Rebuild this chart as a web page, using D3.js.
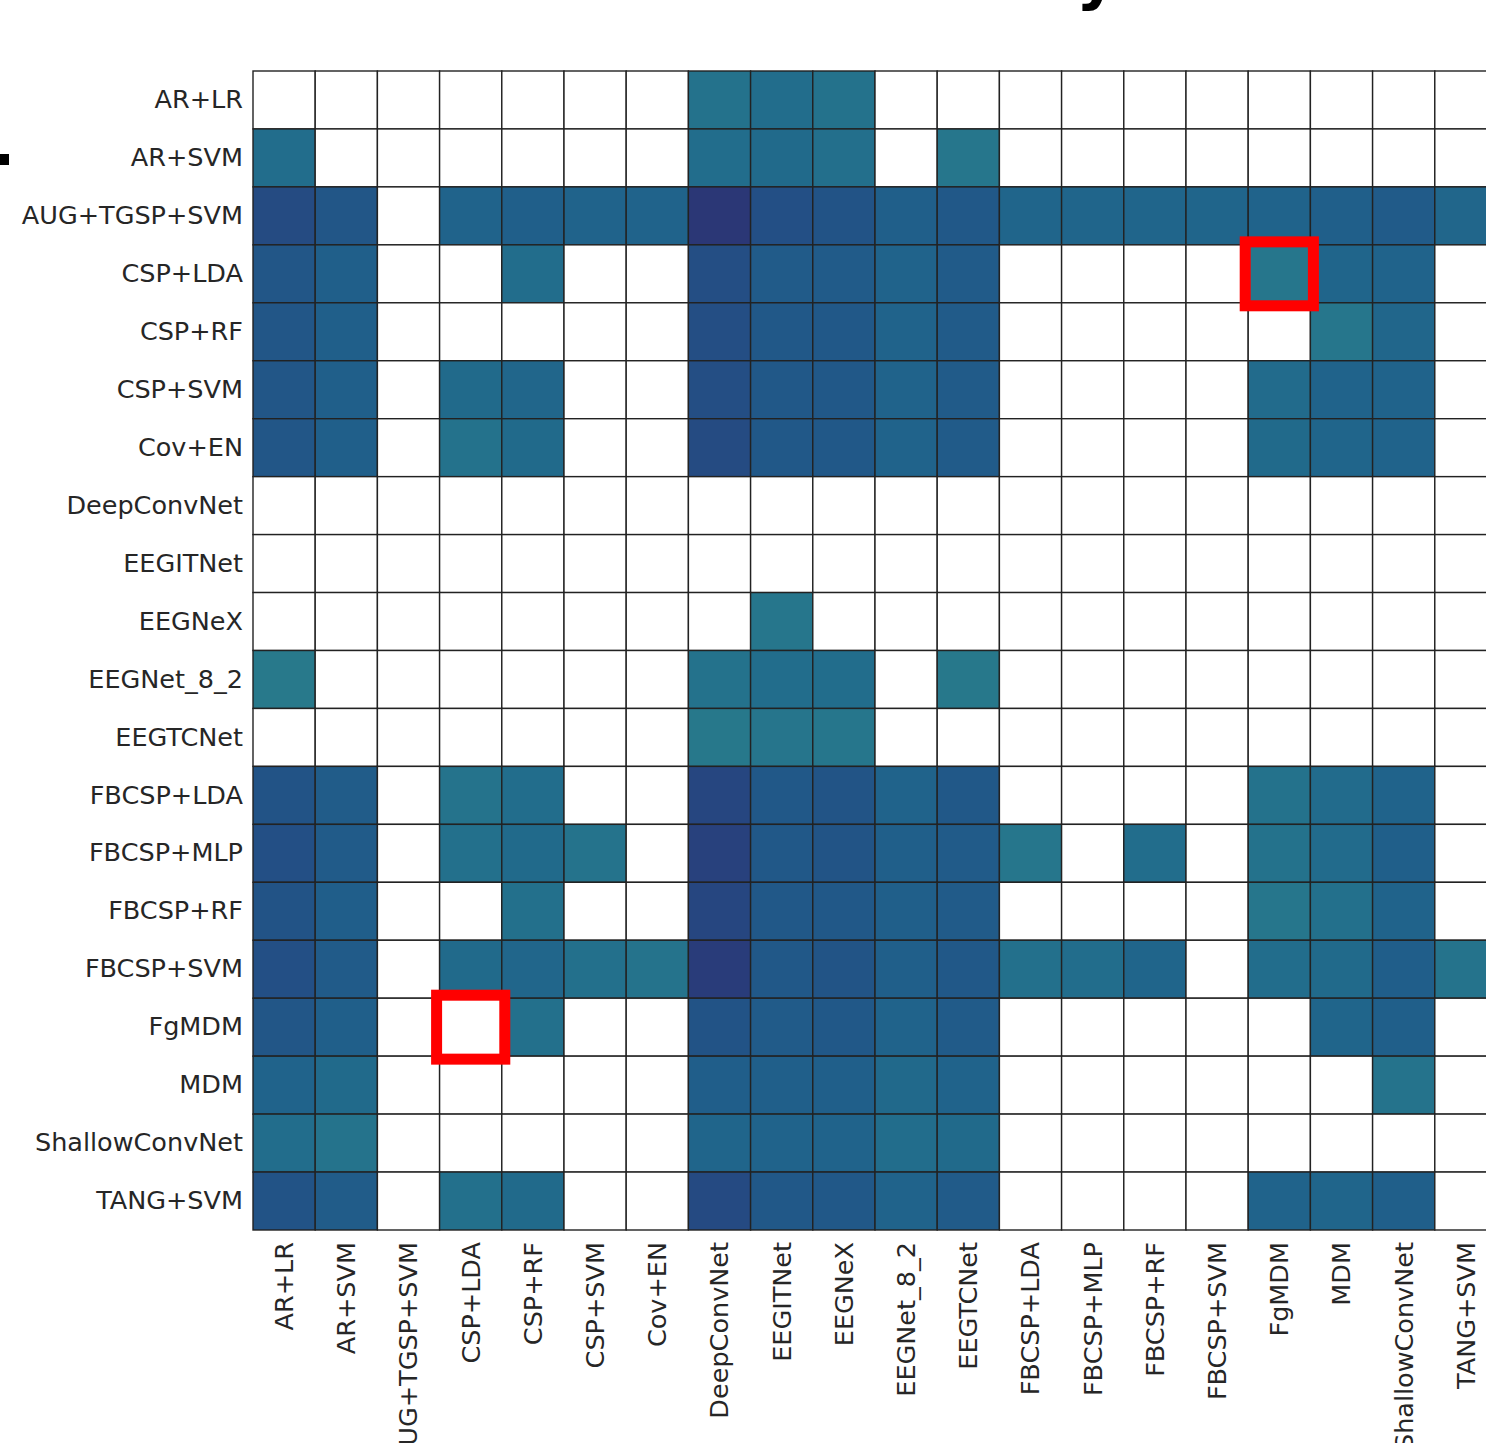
<!DOCTYPE html>
<html>
<head>
<meta charset="utf-8">
<script src="https://cdn.jsdelivr.net/npm/d3@7"></script>
<style>
  html, body { margin: 0; padding: 0; background: #ffffff; overflow: hidden; }
  svg { display: block; }
</style>
</head>
<body>
<svg id="chart" width="1486" height="1443"></svg>
<script>
// ---- data ----
const titleText = "Offline Statistical Analysis";
const methods = ["AR+LR","AR+SVM","AUG+TGSP+SVM","CSP+LDA","CSP+RF","CSP+SVM","Cov+EN",
  "DeepConvNet","EEGITNet","EEGNeX","EEGNet_8_2","EEGTCNet","FBCSP+LDA","FBCSP+MLP",
  "FBCSP+RF","FBCSP+SVM","FgMDM","MDM","ShallowConvNet","TANG+SVM"];
// one row per method (rows), columns in the same order; null = not significant (white)
const n = null;
const significance = [
  /* AR+LR */          [n,n,n,n,n,n,n,0.22,0.30,0.22,n,n,n,n,n,n,n,n,n,n],
  /* AR+SVM */         [0.30,n,n,n,n,n,n,0.30,0.35,0.27,n,0.15,n,n,n,n,n,n,n,n],
  /* AUG+TGSP+SVM */   [0.75,0.62,n,0.45,0.50,0.45,0.45,0.95,0.70,0.66,0.50,0.60,0.42,0.42,0.42,0.42,0.45,0.50,0.56,0.40],
  /* CSP+LDA */        [0.62,0.50,n,n,0.30,n,n,0.72,0.56,0.56,0.45,0.56,n,n,n,n,0.15,0.42,0.45,n],
  /* CSP+RF */         [0.62,0.50,n,n,n,n,n,0.72,0.60,0.60,0.45,0.56,n,n,n,n,n,0.15,0.40,n],
  /* CSP+SVM */        [0.62,0.50,n,0.35,0.40,n,n,0.72,0.60,0.60,0.45,0.56,n,n,n,n,0.32,0.45,0.45,n],
  /* Cov+EN */         [0.62,0.50,n,0.22,0.35,n,n,0.75,0.60,0.60,0.45,0.56,n,n,n,n,0.35,0.42,0.45,n],
  /* DeepConvNet */    [n,n,n,n,n,n,n,n,n,n,n,n,n,n,n,n,n,n,n,n],
  /* EEGITNet */       [n,n,n,n,n,n,n,n,n,n,n,n,n,n,n,n,n,n,n,n],
  /* EEGNeX */         [n,n,n,n,n,n,n,n,0.15,n,n,n,n,n,n,n,n,n,n,n],
  /* EEGNet_8_2 */     [0.10,n,n,n,n,n,n,0.22,0.30,0.30,n,0.12,n,n,n,n,n,n,n,n],
  /* EEGTCNet */       [n,n,n,n,n,n,n,0.12,0.16,0.15,n,n,n,n,n,n,n,n,n,n],
  /* FBCSP+LDA */      [0.66,0.55,n,0.20,0.30,n,n,0.80,0.60,0.65,0.45,0.60,n,n,n,n,0.22,0.32,0.45,n],
  /* FBCSP+MLP */      [0.70,0.56,n,0.25,0.35,0.20,n,0.85,0.60,0.65,0.50,0.56,0.15,n,0.30,n,0.22,0.32,0.50,n],
  /* FBCSP+RF */       [0.66,0.52,n,n,0.25,n,n,0.80,0.60,0.60,0.50,0.56,n,n,n,n,0.15,0.25,0.45,n],
  /* FBCSP+SVM */      [0.70,0.56,n,0.35,0.40,0.25,0.20,0.90,0.60,0.65,0.50,0.60,0.25,0.30,0.42,n,0.30,0.35,0.52,0.20],
  /* FgMDM */          [0.62,0.50,n,n,0.25,n,n,0.66,0.56,0.60,0.45,0.56,n,n,n,n,n,0.42,0.50,n],
  /* MDM */            [0.45,0.35,n,n,n,n,n,0.52,0.50,0.50,0.36,0.45,n,n,n,n,n,n,0.20,n],
  /* ShallowConvNet */ [0.30,0.20,n,n,n,n,n,0.42,0.45,0.45,0.30,0.35,n,n,n,n,n,n,n,n],
  /* TANG+SVM */       [0.66,0.55,n,0.25,0.35,n,n,0.76,0.60,0.60,0.45,0.56,n,n,n,n,0.45,0.42,0.50,n]
];
const highlights = [["CSP+LDA","FgMDM"],["FgMDM","CSP+LDA"]]; // [row, column]
const colorStops = ["#2c7f8b","#22708c","#1f608b","#244c84","#2d3273"];

// ---- drawing ----
const svg = d3.select("#chart");
const gridLeft = 253, gridTop = 71, cellW = 62.2, cellH = 57.95;
const x = d3.scaleBand().domain(methods).range([gridLeft, gridLeft + cellW * methods.length]);
const y = d3.scaleBand().domain(methods).range([gridTop, gridTop + cellH * methods.length]);
const color = d3.scaleSequential(d3.interpolateRgbBasis(colorStops)).domain([0, 1]);

const cells = [];
methods.forEach((r, i) => methods.forEach((c, j) => cells.push({row: r, col: c, v: significance[i][j]})));

svg.append("g").selectAll("rect").data(cells).join("rect")
  .attr("x", d => x(d.col))
  .attr("y", d => y(d.row))
  .attr("width", x.bandwidth())
  .attr("height", y.bandwidth())
  .attr("fill", d => d.v == null ? "#ffffff" : color(d.v))
  .attr("stroke", "#222222")
  .attr("stroke-width", 1.4);

// highlight boxes
svg.append("g").selectAll("rect").data(highlights).join("rect")
  .attr("x", d => x(d[1]) - 3)
  .attr("y", d => y(d[0]) - 3)
  .attr("width", x.bandwidth() + 6)
  .attr("height", y.bandwidth() + 6)
  .attr("fill", "none")
  .attr("stroke", "#ff0000")
  .attr("stroke-width", 11);

// axes
const font = "DejaVu Sans, sans-serif";
const yAxis = svg.append("g")
  .attr("transform", `translate(${gridLeft},0)`)
  .call(d3.axisLeft(y).tickSize(0).tickPadding(10));
yAxis.select(".domain").remove();
yAxis.selectAll("text")
  .attr("font-family", font).attr("font-size", 25.5).attr("fill", "#262626");

const xAxis = svg.append("g")
  .attr("transform", `translate(0,${gridTop + cellH * methods.length})`)
  .call(d3.axisBottom(x).tickSize(0));
xAxis.select(".domain").remove();
xAxis.selectAll("text")
  .attr("font-family", font).attr("font-size", 25.5).attr("fill", "#262626")
  .attr("text-anchor", "end")
  .attr("transform", "rotate(-90)")
  .attr("x", -12).attr("y", 0).attr("dy", "0.35em");

// title (cropped at the top of the picture)
svg.append("text")
  .attr("x", 742).attr("y", -3)
  .attr("text-anchor", "middle")
  .attr("font-family", font).attr("font-weight", "bold").attr("font-size", 64)
  .attr("fill", "#000000")
  .text(titleText);

// small cropped marker at the left edge
svg.append("rect").attr("x", 0).attr("y", 154).attr("width", 9).attr("height", 11).attr("fill", "#000");
</script>
</body>
</html>
